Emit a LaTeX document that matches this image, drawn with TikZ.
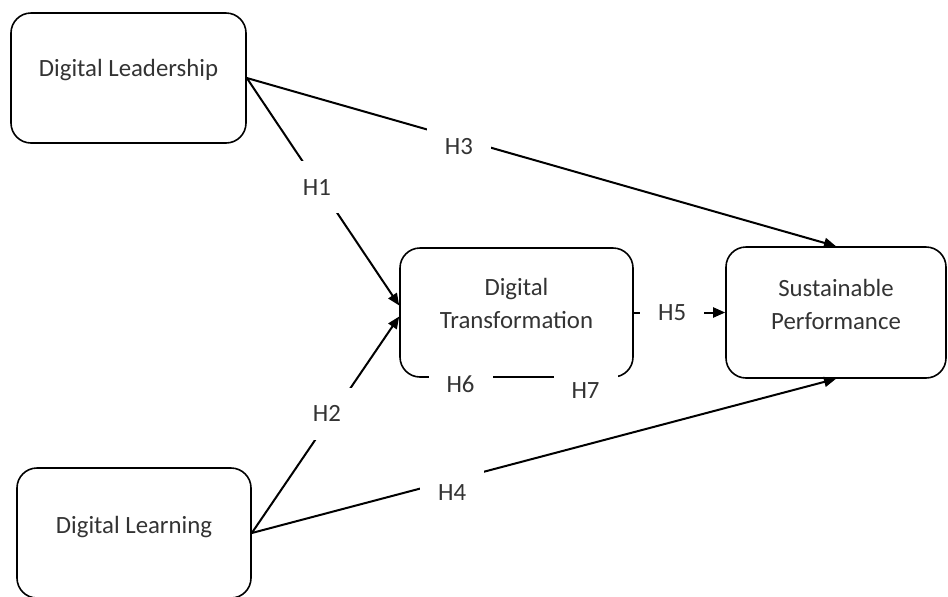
\documentclass[tikz,border=0pt]{standalone}
\usepackage{fontspec}
\setmainfont{Carlito}
\usetikzlibrary{positioning,arrows.meta}

\begin{document}
\begin{tikzpicture}[x=0.5pt,y=-0.5pt,
  font=\fontsize{12.4}{16.5}\selectfont,
  box/.style={draw,rounded corners=10pt,line width=0.8pt,inner sep=0pt},
  txt/.style={text=black!80,align=center},
  link/.style={line width=1pt,-{Triangle[length=6pt,width=5pt]}},
  plain/.style={line width=0.8pt},
  hyp/.style={fill=white,text=black!80,inner xsep=9pt,inner ysep=9pt,text height=8pt,text depth=0pt}]
  \useasboundingbox (0,0) rectangle (948,596);
  % constructs
  \node[box,minimum width=117.5pt,minimum height=65pt,label={[txt,yshift=4pt]center:Digital Leadership}] (lead) at (128.5,78) {};
  \node[box,minimum width=117pt,minimum height=65pt,label={[txt,yshift=3pt]center:Digital Learning}] (learn) at (134,533) {};
  \node[box,minimum width=116.5pt,minimum height=64.5pt,label={[txt,yshift=4.5pt]center:Digital\\Transformation}] (trans) at (516.5,312.5) {};
  \node[box,minimum width=110pt,minimum height=65.5pt,label={[txt,yshift=4pt]center:Sustainable\\Performance}] (perf) at (836,312.5) {};
  % hypotheses
  \draw[link] (lead.east) -- (perf.north) node[hyp,pos=0.36,yshift=-4pt] (h3) {H3};
  \draw[link] (lead.east) -- ([yshift=3.5pt]trans.west) node[hyp,pos=0.48,xshift=-1.5pt] (h1) {H1};
  \draw[link] (learn.east) -- ([yshift=-2pt]trans.west) node[hyp,pos=0.55,xshift=-3pt] (h2) {H2};
  \draw[link] (learn.east) -- (perf.south) node[hyp,pos=0.343,yshift=-6pt] (h4) {H4};
  \draw[link] (trans.east) -- (perf.west) node[hyp,pos=0.42] (h5) {H5};
  \coordinate (b6) at ([xshift=12pt,yshift=0.4pt]trans.south west);
  \coordinate (b7) at ([xshift=-12pt,yshift=0.4pt]trans.south east);
  \draw[plain] (b6) -- (b7) node[hyp,pos=0.2,yshift=-3.5pt] (h6) {H6} node[hyp,pos=0.87,yshift=-6.5pt] (h7) {H7};
\end{tikzpicture}
\end{document}
